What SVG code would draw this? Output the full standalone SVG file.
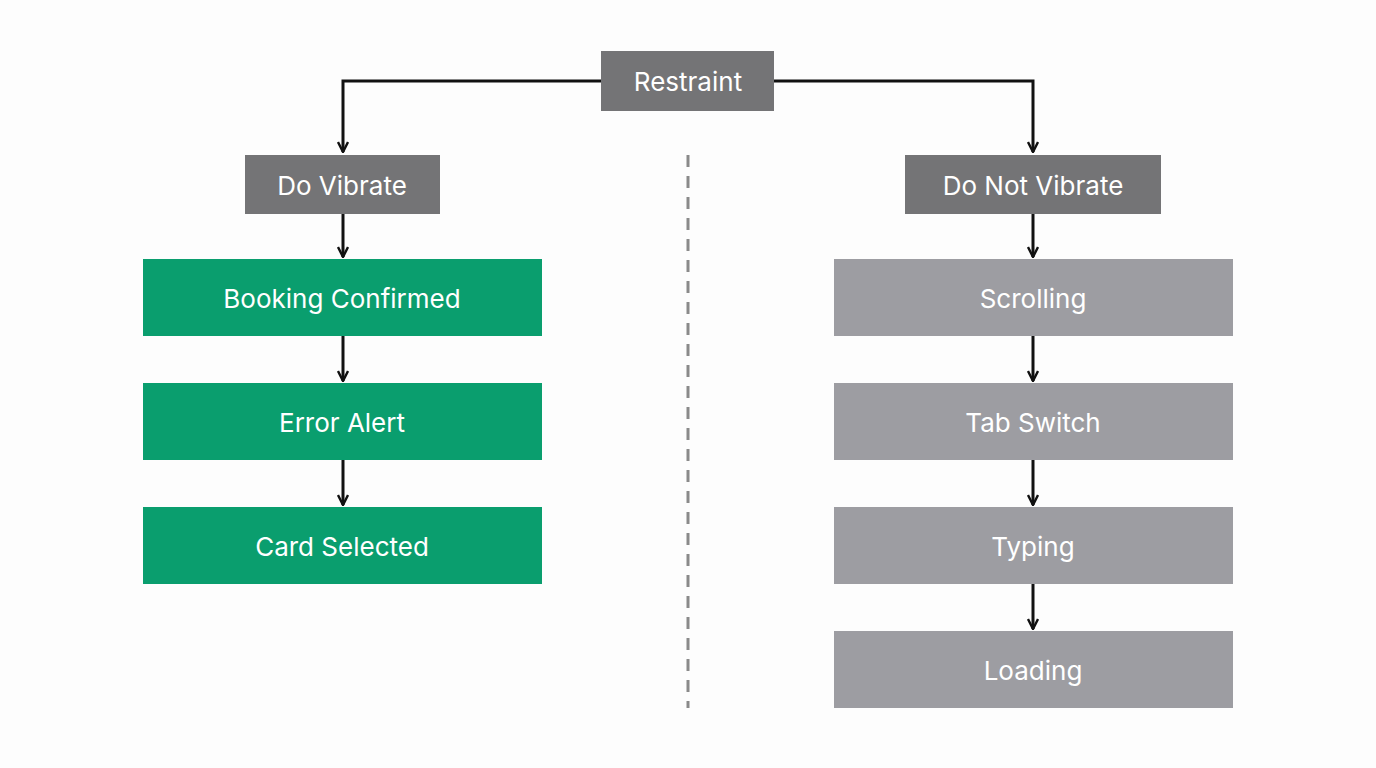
<svg xmlns="http://www.w3.org/2000/svg" width="1376" height="768" viewBox="0 0 1376 768">
<defs>
<marker id="ah" viewBox="0 0 12 12" refX="11" refY="6" markerWidth="12" markerHeight="12" markerUnits="userSpaceOnUse" orient="auto">
<path d="M1,1 L11,6 L1,11" fill="none" stroke="#111" stroke-width="2.4"/>
</marker>
<style>
.t{font-family:Inter,"Noto Sans",sans-serif;font-size:26px;fill:#fff;text-anchor:middle;dominant-baseline:central}
.dk{fill:#747476}.gr{fill:#0a9e6e}.lg{fill:#9d9da2}
.c{fill:none;stroke:#111;stroke-width:3;marker-end:url(#ah)}
</style>
</defs>
<rect width="1376" height="768" fill="#fdfdfd"/>
<line x1="688" y1="155" x2="688" y2="708" stroke="#8a8a8a" stroke-width="3" stroke-dasharray="12,9"/>
<g id="connectors">
<path class="c" d="M601,81 H343 V152"/>
<path class="c" d="M774,81 H1033 V152"/>
<path class="c" d="M343,214 V257"/>
<path class="c" d="M343,336 V381"/>
<path class="c" d="M343,460 V505"/>
<path class="c" d="M1033,214 V257"/>
<path class="c" d="M1033,336 V381"/>
<path class="c" d="M1033,460 V505"/>
<path class="c" d="M1033,584 V629"/>
</g>
<g id="restraint"><rect class="dk" x="601" y="51" width="173" height="60"/><text class="t" x="688" y="81">Restraint</text></g>
<g id="do-vibrate"><rect class="dk" x="245" y="155" width="195" height="59"/><text class="t" x="342" y="185">Do Vibrate</text></g>
<g id="do-not-vibrate"><rect class="dk" x="905" y="155" width="256" height="59"/><text class="t" x="1033" y="185">Do Not Vibrate</text></g>
<g id="booking"><rect class="gr" x="143" y="259" width="399" height="77"/><text class="t" x="342" y="298">Booking Confirmed</text></g>
<g id="error"><rect class="gr" x="143" y="383" width="399" height="77"/><text class="t" x="342" y="422">Error Alert</text></g>
<g id="card"><rect class="gr" x="143" y="507" width="399" height="77"/><text class="t" x="342" y="546">Card Selected</text></g>
<g id="scrolling"><rect class="lg" x="834" y="259" width="399" height="77"/><text class="t" x="1033" y="298">Scrolling</text></g>
<g id="tab"><rect class="lg" x="834" y="383" width="399" height="77"/><text class="t" x="1033" y="422">Tab Switch</text></g>
<g id="typing"><rect class="lg" x="834" y="507" width="399" height="77"/><text class="t" x="1033" y="546">Typing</text></g>
<g id="loading"><rect class="lg" x="834" y="631" width="399" height="77"/><text class="t" x="1033" y="670">Loading</text></g>
</svg>
